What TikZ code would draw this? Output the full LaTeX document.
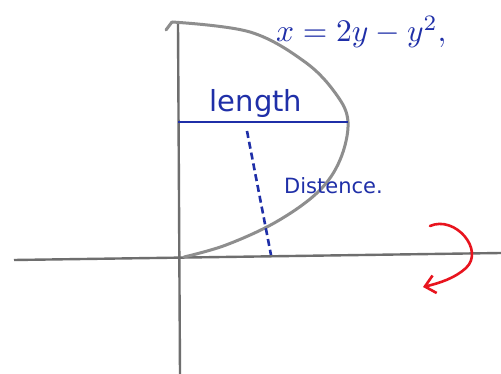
\documentclass[tikz,border=0pt]{standalone}
\usepackage{fontspec}
\setmainfont{DejaVu Sans}
\usetikzlibrary{arrows.meta}
\definecolor{penblue}{HTML}{1F2FA8}
\definecolor{pengray}{HTML}{8E8E8E}
\definecolor{axisgray}{HTML}{6E6E6E}
\definecolor{penred}{HTML}{E8141E}
\tikzset{
  axisline/.style={draw=axisgray, line width=2.4pt},
  curveline/.style={draw=pengray, line width=3pt, line cap=round},
  blueline/.style={draw=penblue, line width=2.2pt},
  bluedash/.style={draw=penblue, line width=2.6pt, dash pattern=on 7pt off 4pt},
  hand/.style={text=penblue, inner sep=0pt},
  redarrow/.style={draw=penred, line width=2.6pt, line cap=round, -{Straight Barb[length=10pt,width=18pt]}}
}
\begin{document}
\begin{tikzpicture}[x=1pt,y=-1pt]
\useasboundingbox (0,0) rectangle (501,374);
\fill[white] (0,0) rectangle (501,374);
% axes
\coordinate (yT) at (178,24);
\coordinate (yB) at (180,374);
\coordinate (xL) at (14,260);
\coordinate (xR) at (501,253);
\draw[axisline] (yT) -- (yB);
\draw[axisline] (xL) -- (xR);
% parabola
\coordinate (p0) at (166,30);
\coordinate (p1) at (172,22);
\coordinate (p2) at (250,32);
\coordinate (p3) at (305,62);
\coordinate (p4) at (336,94);
\coordinate (p5) at (348,122);
\coordinate (p6) at (340,160);
\coordinate (p7) at (318,192);
\coordinate (p8) at (276,222);
\coordinate (p9) at (226,245);
\coordinate (p10) at (184,257);
\draw[curveline] (p0) -- (p1);
\draw[curveline] plot[smooth, tension=0.6] coordinates {(p1) (p2) (p3) (p4) (p5) (p6) (p7) (p8) (p9) (p10)};
% length line
\coordinate (lL) at (178,122);
\draw[blueline] (lL) -- (p5);
\node[hand, font=\fontsize{29}{29}\selectfont, anchor=base] (length) at (256,112) {length};
% distance dashed
\coordinate (dT) at (247,131);
\coordinate (dB) at (271,255);
\draw[bluedash] (dT) -- (dB);
\node[hand, font=\fontsize{21}{21}\selectfont, anchor=base west] (dist) at (284,194) {Distence.};
% equation
\node[hand, anchor=base west] (eq) at (276,42) {\scalebox{3.15}{$x=2y-y^2,$}};
% rotation arrow
\coordinate (aS) at (430,226);
\coordinate (aE) at (423,287);
\draw[redarrow] (aS) .. controls (455,215) and (485,250) .. (466,268) .. controls (455,278) and (440,283) .. (aE);
\end{tikzpicture}
\end{document}
